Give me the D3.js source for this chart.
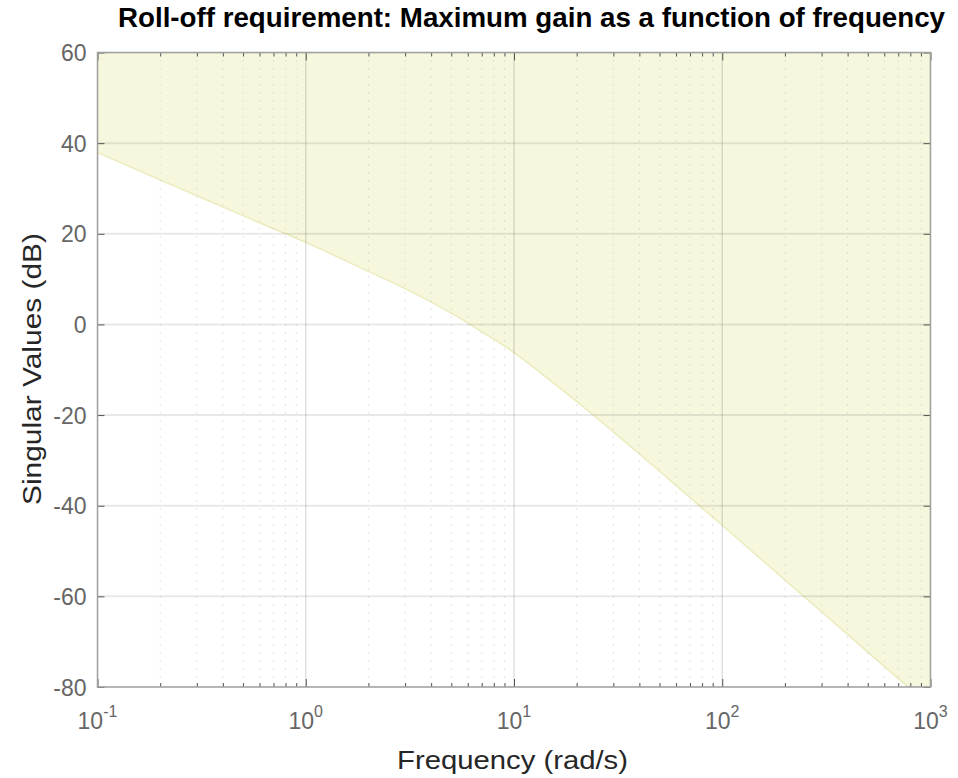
<!DOCTYPE html>
<html><head><meta charset="utf-8">
<script src="https://cdn.jsdelivr.net/npm/d3@7"></script>
<style>body{margin:0;background:#fff;} svg{display:block;font-family:"Liberation Sans",Arial,Helvetica,sans-serif;}</style>
</head><body><svg id="c" width="958" height="778"></svg>
<script>
// Boundary of the roll-off requirement (max gain vs frequency)
const freq = [0.1, 0.2, 0.5, 1, 2, 3, 5, 7, 10, 20, 30, 50, 70, 100, 200, 300, 500, 700, 1000];
const gainDb = [37.9, 31.9, 24.0, 18.1, 11.7, 7.9, 2.5, -1.6, -6.2, -17.0, -23.7, -32.4, -38.2, -44.3, -56.4, -63.4, -72.3, -78.1, -84.3];
const yTicks = [60, 40, 20, 0, -20, -40, -60, -80];
const xDecades = [-1, 0, 1, 2, 3];
const titleText = "Roll-off requirement: Maximum gain as a function of frequency";
const xLabel = "Frequency (rad/s)";
const yLabel = "Singular Values (dB)";

const svg = d3.select("#c");
const L = 97.5, R = 930.5, T = 52.5, B = 687;
const x = d3.scaleLog().domain([0.1, 1000]).range([L, R]);
const y = d3.scaleLinear().domain([-80, 60]).range([B, T]);

svg.append("defs").append("clipPath").attr("id","clip")
  .append("rect").attr("x",L).attr("y",T).attr("width",R-L).attr("height",B-T);

// fill region above the curve
const pts = freq.map((f,i)=>[f,gainDb[i]]);
const crv = d3.curveCatmullRom.alpha(0.5);
const area = d3.area().x(d=>x(d[0])).y0(y(60)).y1(d=>y(d[1])).curve(crv);
const g = svg.append("g").attr("clip-path","url(#clip)");
g.append("path").datum(pts).attr("d",area).attr("fill","#f7f7de");
g.append("path").datum(pts).attr("d",d3.line().x(d=>x(d[0])).y(d=>y(d[1])).curve(crv))
  .attr("fill","none").attr("stroke","#ecebbd").attr("stroke-width",1.5);

// minor grid
const minors = [];
for (let d=-1; d<3; d++) for (let m=2; m<=9; m++) minors.push(m*Math.pow(10,d));
g.selectAll(".mg").data(minors).enter().append("line")
  .attr("x1",d=>x(d)).attr("x2",d=>x(d)).attr("y1",T).attr("y2",B)
  .attr("stroke","#bdbdbd").attr("stroke-width",1).attr("stroke-dasharray","1,7").attr("opacity",0.8);
// major grid
const majors = xDecades.map(d=>Math.pow(10,d));
g.selectAll(".vg").data(majors).enter().append("line")
  .attr("x1",d=>x(d)).attr("x2",d=>x(d)).attr("y1",T).attr("y2",B)
  .attr("stroke","#000").attr("stroke-opacity",0.12).attr("stroke-width",1.5);
g.selectAll(".hg").data(yTicks).enter().append("line")
  .attr("y1",d=>y(d)).attr("y2",d=>y(d)).attr("x1",L).attr("x2",R)
  .attr("stroke","#000").attr("stroke-opacity",0.09).attr("stroke-width",2);

// axes with inward ticks
const axCol = "#a0a0a0";
function styleAxis(sel){
  sel.select(".domain").remove();
  sel.selectAll(".tick line").attr("stroke","#555").attr("stroke-width",1);
  sel.selectAll("text").remove();
}
const yAxL = svg.append("g").attr("transform",`translate(${L},0)`).call(d3.axisRight(y).tickValues(yTicks).tickSize(7));
styleAxis(yAxL);
const yAxR = svg.append("g").attr("transform",`translate(${R},0)`).call(d3.axisLeft(y).tickValues(yTicks).tickSize(7));
styleAxis(yAxR);
const xAxB = svg.append("g").attr("transform",`translate(0,${B})`).call(d3.axisTop(x).tickValues(majors).tickSize(8));
styleAxis(xAxB);
const xAxBm = svg.append("g").attr("transform",`translate(0,${B})`).call(d3.axisTop(x).tickValues(minors).tickSize(4));
styleAxis(xAxBm);
const xAxT = svg.append("g").attr("transform",`translate(0,${T})`).call(d3.axisBottom(x).tickValues(majors).tickSize(8));
styleAxis(xAxT);
const xAxTm = svg.append("g").attr("transform",`translate(0,${T})`).call(d3.axisBottom(x).tickValues(minors).tickSize(4));
styleAxis(xAxTm);

svg.append("rect").attr("x",L).attr("y",T).attr("width",R-L).attr("height",B-T)
  .attr("fill","none").attr("stroke",axCol).attr("stroke-width",1.5);

// tick labels
svg.selectAll(".yl").data(yTicks).enter().append("text")
  .attr("x",L-11).attr("y",d=>y(d)+8.5).attr("text-anchor","end")
  .attr("font-size",23).attr("fill","#666").text(d=>d);
const xl = svg.selectAll(".xl").data(xDecades).enter().append("text")
  .attr("x",d=>x(Math.pow(10,d))).attr("y",729).attr("text-anchor","middle").attr("fill","#666");
xl.append("tspan").attr("font-size",23).text("10");
xl.append("tspan").attr("font-size",16).attr("dy",-12).text(d=>d);

// labels
svg.append("text").attr("x",531.5).attr("y",27).attr("text-anchor","middle")
  .attr("font-size",27).attr("font-weight","bold").attr("fill","#000")
  .attr("textLength",827).attr("lengthAdjust","spacingAndGlyphs").text(titleText);
svg.append("text").attr("x",512.5).attr("y",768.5).attr("text-anchor","middle")
  .attr("font-size",26).attr("fill","#262626")
  .attr("textLength",231).attr("lengthAdjust","spacingAndGlyphs").text(xLabel);
svg.append("text").attr("transform",`translate(41,369) rotate(-90)`).attr("text-anchor","middle")
  .attr("font-size",26).attr("fill","#262626")
  .attr("textLength",272).attr("lengthAdjust","spacingAndGlyphs").text(yLabel);
</script></body></html>
